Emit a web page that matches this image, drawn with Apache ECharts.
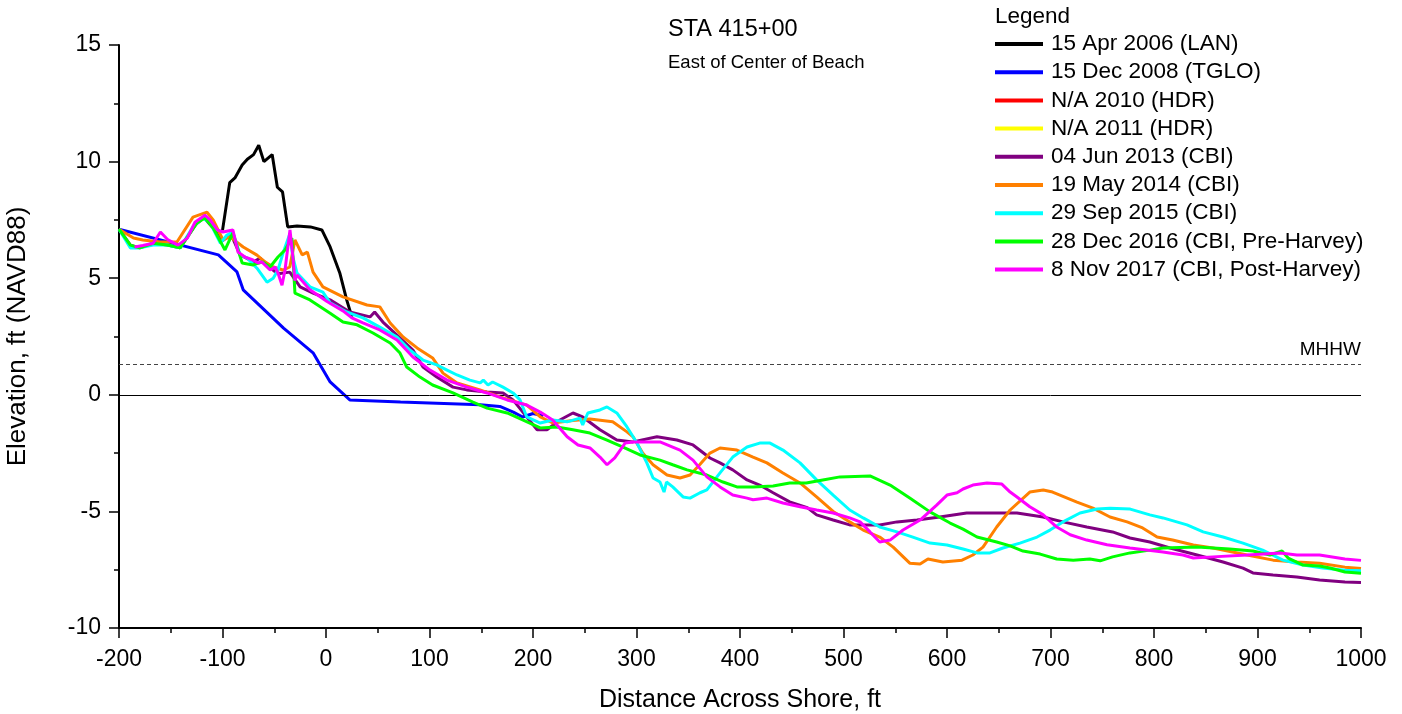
<!DOCTYPE html>
<html><head><meta charset="utf-8">
<script src="https://cdn.jsdelivr.net/npm/echarts@6/dist/echarts.min.js"></script>
<style>html,body{margin:0;padding:0;background:#fff}#c{width:1402px;height:714px}</style>
</head><body><div id="c"></div>
<script>
var seriesNames = ['15 Apr 2006 (LAN)','15 Dec 2008 (TGLO)','N/A 2010 (HDR)','N/A 2011 (HDR)','04 Jun 2013 (CBI)','19 May 2014 (CBI)','29 Sep 2015 (CBI)','28 Dec 2016 (CBI, Pre-Harvey)','8 Nov 2017 (CBI, Post-Harvey)'];
var seriesColors = ['#000000','#0000ff','#ff0000','#ffff00','#800080','#ff8000','#00ffff','#00ff00','#ff00ff'];
var mhhw = 1.3;

var lan2006 = [[-100,7.05],[-93,9.1],[-88,9.3],[-81,9.85],[-76,10.1],[-70,10.3],[-65,10.7],[-60,10.0],[-52,10.3],[-47,8.9],[-42,8.7],[-37,7.2],[-28,7.24],[-15,7.2],[-4,7.07],[4,6.34],[13.5,5.2],[20,4.07],[25,3.34]];
var tglo2008 = [[-200,7.1],[-104,6.0],[-86,5.27],[-80,4.5],[-41,2.86],[-12.5,1.8],[4,0.55],[23,-0.22],[72,-0.31],[149,-0.43],[168,-0.5],[181,-0.74],[190,-0.95],[200,-0.8],[210,-0.9]];
var hdr2010 = [];
var hdr2011 = [];
var cbi2013 = [[-200,7.1],[-189,6.42],[-180,6.3],[-167,6.5],[-153,6.42],[-141,6.3],[-126,7.3],[-118,7.6],[-110,7.2],[-100,6.6],[-92,6.9],[-83,6.0],[-70,5.7],[-63.6,5.86],[-50,5.3],[-44.5,5.2],[-35,5.26],[-25,4.63],[-12.5,4.36],[4,4.07],[23,3.55],[42.5,3.34],[47,3.55],[55,3.12],[68.6,2.56],[84,1.92],[93.7,1.19],[107,0.76],[122.7,0.33],[136,0.21],[155.6,0.12],[171,0.08],[180.7,-0.22],[194,-0.95],[204,-1.5],[213.5,-1.5],[226,-1.08],[238.6,-0.78],[248,-0.95],[264.7,-1.5],[281,-1.94],[296.6,-2.02],[319.8,-1.8],[339,-1.94],[354.6,-2.15],[371,-2.71],[380.7,-2.92],[393,-3.22],[406.8,-3.65],[419,-3.87],[432,-4.2],[448,-4.59],[465,-4.84],[474,-5.15],[490,-5.37],[506,-5.58],[535,-5.58],[551.7,-5.45],[571,-5.37],[593,-5.24],[619,-5.07],[641.5,-5.07],[667.6,-5.07],[693,-5.24],[712,-5.45],[735,-5.67],[760,-5.88],[776.8,-6.14],[796,-6.31],[815.5,-6.57],[841.6,-6.87],[866.7,-7.17],[886,-7.43],[895.6,-7.64],[915,-7.73],[938,-7.81],[960,-7.94],[984.5,-8.03],[1000,-8.05]];
var cbi2014 = [[-200,7.1],[-186,6.72],[-177,6.64],[-160,6.55],[-144,6.55],[-128.5,7.62],[-115,7.83],[-109,7.5],[-99.5,6.64],[-92.7,6.77],[-80,6.34],[-66.7,5.99],[-59,5.7],[-51,5.48],[-41.5,5.35],[-35,5.48],[-30,6.64],[-23,6.0],[-18,6.12],[-12.5,5.26],[-3,4.63],[16.4,4.2],[39.6,3.85],[52,3.77],[62,3.08],[74.5,2.48],[88,2.01],[103,1.58],[113,0.93],[126.6,0.51],[148.8,0.21],[168,-0.09],[194,-0.44],[207,-0.95],[219,-1.21],[238.6,-1.1],[255,-1.04],[277,-1.16],[290.8,-1.59],[296.6,-1.8],[306,-2.5],[316,-3.0],[329.5,-3.44],[342,-3.57],[351.7,-3.44],[361,-3.0],[371,-2.5],[380.7,-2.28],[397,-2.37],[412.6,-2.67],[426,-2.92],[441.5,-3.35],[458,-3.78],[474,-4.38],[490,-5.0],[506,-5.45],[519,-5.8],[535,-6.1],[548,-6.53],[564,-7.22],[574,-7.26],[581.6,-7.04],[596,-7.17],[614.5,-7.09],[625,-6.87],[634.8,-6.53],[648,-5.67],[661,-4.94],[680,-4.17],[693,-4.08],[702,-4.17],[725.6,-4.6],[741,-4.86],[757.5,-5.24],[774,-5.45],[789,-5.71],[803,-6.1],[818,-6.23],[838,-6.44],[857,-6.57],[890,-6.87],[915,-7.09],[938,-7.17],[960,-7.22],[984.5,-7.39],[1000,-7.45]];
var cbi2015 = [[-200,7.1],[-189,6.3],[-180,6.3],[-167,6.42],[-153.6,6.42],[-141,6.3],[-128.5,7.2],[-119,7.58],[-112,7.37],[-102,6.5],[-95.7,6.85],[-90,6.98],[-83,6.0],[-76,5.86],[-66.7,5.43],[-57,4.83],[-51,5.0],[-46.4,5.35],[-41.5,6.08],[-35,6.9],[-32,5.9],[-28,5.22],[-15.5,4.63],[-3,4.4],[4,3.94],[20,3.55],[35.7,3.3],[52,2.9],[68.6,2.48],[81,1.92],[93.7,1.49],[107,1.28],[117,1.06],[126.6,0.85],[139,0.63],[149,0.51],[152,0.63],[156.5,0.42],[161,0.55],[171,0.33],[180.7,0.08],[187.5,-0.22],[194,-0.95],[207,-1.21],[219,-1.08],[233,-1.16],[245.4,-1.0],[248,-1.29],[253,-0.78],[264.7,-0.65],[271.5,-0.52],[281,-0.78],[290.8,-1.38],[300.5,-2.07],[310,-2.92],[316,-3.57],[322.7,-3.74],[326.6,-4.17],[329,-3.74],[335,-3.95],[345,-4.38],[351.7,-4.43],[361.4,-4.2],[368,-4.08],[380.7,-3.35],[393,-2.67],[406.8,-2.24],[419,-2.07],[429,-2.07],[441.5,-2.37],[458,-2.92],[474,-3.65],[490,-4.3],[506,-4.94],[519,-5.28],[535,-5.67],[551.7,-5.88],[567,-6.1],[583.6,-6.36],[600,-6.44],[615.5,-6.61],[629,-6.78],[641.5,-6.78],[654,-6.57],[670.5,-6.36],[687,-6.1],[699.5,-5.8],[712,-5.45],[728.5,-5.07],[745,-4.9],[757.5,-4.86],[777,-4.9],[796,-5.15],[808.7,-5.28],[831.9,-5.58],[847.5,-5.88],[866.7,-6.1],[886,-6.36],[905,-6.66],[924.6,-7.09],[944,-7.3],[963,-7.43],[984.5,-7.52],[1000,-7.55]];
var cbi2016 = [[-200,7.1],[-189,6.42],[-180,6.3],[-167,6.5],[-153.6,6.42],[-141,6.3],[-124.6,7.37],[-117,7.58],[-109,7.15],[-97.6,6.21],[-90,6.94],[-81,5.65],[-70.5,5.57],[-61,5.7],[-54,5.48],[-46.4,5.91],[-39.6,6.21],[-33,6.72],[-30,4.36],[-15.5,4.07],[4,3.5],[16.4,3.12],[30,3.0],[45.4,2.65],[62,2.22],[71.5,1.79],[78,1.19],[90.8,0.76],[103,0.42],[122.7,0.08],[142,-0.31],[155.6,-0.57],[175,-0.78],[190,-1.08],[207,-1.42],[223,-1.38],[238.6,-1.5],[255,-1.64],[271.5,-1.94],[287,-2.24],[303.4,-2.58],[322.7,-2.8],[335,-3.0],[348.8,-3.22],[368,-3.44],[383.6,-3.74],[397,-3.95],[412.6,-3.95],[432,-3.91],[448,-3.78],[464,-3.78],[480,-3.65],[496.6,-3.52],[525.6,-3.48],[545,-3.87],[564,-4.43],[583.6,-5.02],[603,-5.5],[615.5,-5.76],[629,-6.1],[648,-6.31],[661,-6.48],[673.4,-6.7],[690,-6.83],[706,-7.04],[722,-7.09],[738,-7.04],[748,-7.12],[760,-6.95],[776.8,-6.78],[796,-6.66],[808.7,-6.57],[841.6,-6.53],[873,-6.61],[895.6,-6.7],[912,-6.87],[923.7,-6.7],[929.6,-7.0],[944,-7.3],[960,-7.34],[970,-7.43],[984.5,-7.6],[1000,-7.65]];
var cbi2017 = [[-185,6.34],[-177,6.4],[-167,6.5],[-160,6.98],[-152.6,6.64],[-143,6.42],[-134,6.72],[-126.6,7.4],[-117,7.7],[-112,7.5],[-105,7.07],[-99.5,6.98],[-90,7.07],[-85,6.12],[-78,5.9],[-70.5,5.78],[-65.7,5.65],[-62,5.7],[-54,5.35],[-49,5.48],[-46.4,5.22],[-42.5,4.7],[-39.6,5.35],[-34.8,7.07],[-32,5.9],[-30,4.9],[-28,5.14],[-15.5,4.5],[1,4.0],[16.4,3.6],[25,3.3],[35.7,3.08],[52,2.78],[68.6,2.35],[84,1.62],[100.5,1.06],[117,0.63],[136,0.33],[155.6,0.08],[175,-0.22],[194,-0.44],[207,-0.74],[219,-1.08],[233,-1.8],[243.5,-2.15],[255,-2.28],[264.7,-2.67],[271.5,-3.0],[279,-2.7],[289,-2.07],[296.6,-2.02],[310,-2.02],[322.7,-2.02],[342,-2.37],[354.6,-2.8],[368,-3.52],[380.7,-3.95],[393,-4.3],[406.8,-4.43],[412.6,-4.5],[426,-4.43],[441.5,-4.64],[458,-4.8],[474,-4.94],[490,-5.07],[506,-5.28],[516,-5.45],[525.6,-5.88],[535,-6.31],[545,-6.23],[557.5,-5.8],[574,-5.37],[590,-4.73],[600,-4.3],[609.7,-4.2],[615.5,-4.04],[625,-3.87],[638.6,-3.78],[653,-3.83],[661,-4.17],[667.6,-4.38],[680,-4.8],[693,-5.15],[706,-5.67],[719,-6.0],[735,-6.23],[754.6,-6.43],[776.8,-6.57],[808.7,-6.74],[828,-6.87],[838,-7.0],[857,-6.95],[890,-6.87],[922,-6.78],[938,-6.87],[960,-6.87],[984.5,-7.04],[1000,-7.1]];

var allData = [lan2006, tglo2008, hdr2010, hdr2011, cbi2013, cbi2014, cbi2015, cbi2016, cbi2017];
var FONT = '"Liberation Sans", Arial, sans-serif';

var series = allData.map(function (d, i) {
  return {
    name: seriesNames[i], type: 'line', data: d, showSymbol: false, symbol: 'none',
    lineStyle: { color: seriesColors[i], width: 3 }, itemStyle: { color: seriesColors[i] },
    z: 3 + i, animation: false
  };
});
series.unshift({
  name: 'refs', type: 'line', data: [], z: 2, animation: false,
  markLine: {
    silent: true, symbol: 'none', animation: false,
    data: [
      { yAxis: 0, lineStyle: { color: '#000', width: 1, type: 'solid' }, label: { show: false } },
      { yAxis: mhhw, lineStyle: { color: '#444', width: 1, type: [4, 3] },
        label: { show: true, formatter: 'MHHW', position: 'insideEndTop', color: '#000', fontSize: 19, fontFamily: FONT, distance: [0, 5] } }
    ]
  }
});

var chart = echarts.init(document.getElementById('c'), null, { renderer: 'canvas' });
chart.setOption({
  backgroundColor: '#fff',
  animation: false,
  grid: { left: 119, right: 41, top: 45, bottom: 86, containLabel: false, outerBoundsMode: 'none' },
  title: [
    { text: 'STA 415+00', left: 668, top: 18, padding: 0, textStyle: { fontSize: 23.5, fontWeight: 'normal', color: '#000', fontFamily: FONT } },
    { text: 'East of Center of Beach', left: 668, top: 53, padding: 0, textStyle: { fontSize: 18.5, fontWeight: 'normal', color: '#000', fontFamily: FONT } },
    { text: 'Legend', left: 995, top: 5, padding: 0, textStyle: { fontSize: 22.5, fontWeight: 'normal', color: '#000', fontFamily: FONT } }
  ],
  legend: {
    data: seriesNames, orient: 'vertical', left: 995, top: 32, padding: 0,
    icon: 'rect', itemWidth: 48, itemHeight: 4, itemGap: 4.2,
    textStyle: { fontSize: 22.5, color: '#000', fontFamily: FONT, lineHeight: 24, padding: [0, 0, 0, 3] },
    selectedMode: false
  },
  xAxis: {
    type: 'value', min: -200, max: 1000, interval: 100,
    name: 'Distance Across Shore, ft', nameLocation: 'middle', nameGap: 60,
    nameTextStyle: { fontSize: 25, color: '#000', fontFamily: FONT },
    axisLine: { show: true, onZero: false, lineStyle: { color: '#000', width: 2 } },
    axisTick: { show: true, inside: false, length: 10, lineStyle: { color: '#000', width: 1.5 } },
    minorTick: { show: true, splitNumber: 2, length: 5, lineStyle: { color: '#000', width: 1.5 } },
    axisLabel: { fontSize: 23, color: '#000', fontFamily: FONT, margin: 20, formatter: function (v) { return String(v); } },
    splitLine: { show: false }
  },
  yAxis: {
    type: 'value', min: -10, max: 15, interval: 5,
    name: 'Elevation, ft (NAVD88)', nameLocation: 'middle', nameGap: 88, nameRotate: 90,
    nameTextStyle: { fontSize: 26, color: '#000', fontFamily: FONT },
    axisLine: { show: true, onZero: false, lineStyle: { color: '#000', width: 2 } },
    axisTick: { show: true, inside: false, length: 10, lineStyle: { color: '#000', width: 1.5 } },
    minorTick: { show: true, splitNumber: 2, length: 5, lineStyle: { color: '#000', width: 1.5 } },
    axisLabel: { fontSize: 23, color: '#000', fontFamily: FONT, margin: 18 },
    splitLine: { show: false }
  },
  series: series
});
</script></body></html>
